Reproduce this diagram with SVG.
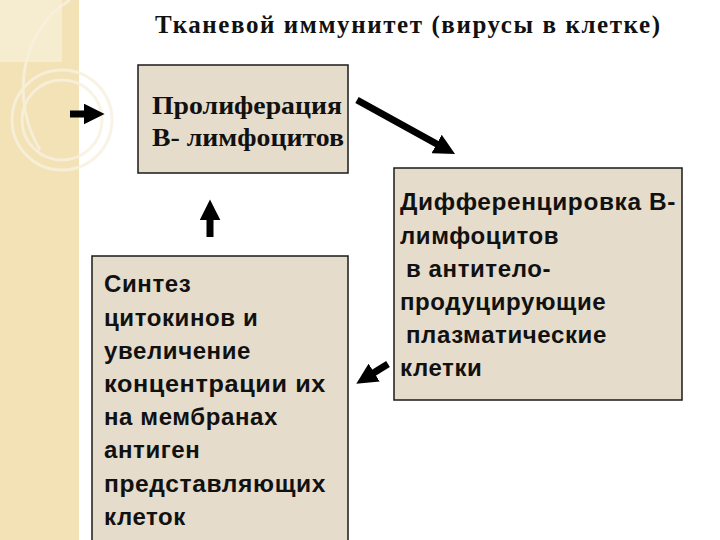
<svg xmlns="http://www.w3.org/2000/svg" width="720" height="540" viewBox="0 0 720 540">
<style>
.box{fill:#e5dccb;stroke:#1a1a1a;stroke-width:1.5}
.t{font-family:"Liberation Sans",Arial,sans-serif;font-weight:bold;font-size:24px;letter-spacing:0.6px;fill:#111}
.s{font-family:"Liberation Serif","Times New Roman",serif;font-weight:bold;font-size:25px;fill:#111}
.ar{stroke:#000;stroke-width:7;fill:none;marker-end:url(#h)}
</style>
<defs><marker id="h" viewBox="0 0 10 10" refX="4" refY="5" markerWidth="3" markerHeight="3" orient="auto" markerUnits="strokeWidth"><path d="M0,0 L10,5 L0,10 z" fill="#000"/></marker></defs>
<rect width="720" height="540" fill="#fff"/>
<rect x="0" y="0" width="79" height="540" fill="#f2e2b6"/>
<rect x="0" y="0" width="62" height="62" fill="#f6ecd0"/>
<g fill="none" stroke="#f8f1de" stroke-width="3" opacity="0.8">
<circle cx="62" cy="120" r="50"/>
<circle cx="62" cy="120" r="40"/>
<path d="M70,0 C20,30 10,100 40,150"/>
</g>
<text class="s" x="155" y="33" font-size="23" textLength="505" lengthAdjust="spacing">Тканевой иммунитет (вирусы в клетке)</text>
<g id="n1"><rect class="box" x="138" y="65" width="210" height="108"/>
<text class="s" x="152" y="114" textLength="190" lengthAdjust="spacingAndGlyphs">Пролиферация</text><text class="s" x="152" y="146" textLength="192" lengthAdjust="spacingAndGlyphs">В- лимфоцитов</text></g>
<g id="n2"><rect class="box" x="394" y="168" width="288" height="232"/>
<text class="t" x="400" y="210" textLength="276" lengthAdjust="spacingAndGlyphs">Дифференцировка В-</text>
<text class="t" x="400" y="244">лимфоцитов</text>
<text class="t" x="406" y="277">в антитело-</text>
<text class="t" x="400" y="310">продуцирующие</text>
<text class="t" x="406" y="343">плазматические</text>
<text class="t" x="400" y="376">клетки</text></g>
<g id="n3"><rect class="box" x="92" y="256" width="256" height="300"/>
<text class="t" x="104" y="292">Синтез</text>
<text class="t" x="104" y="326">цитокинов и</text>
<text class="t" x="104" y="359">увеличение</text>
<text class="t" x="104" y="392" textLength="222" lengthAdjust="spacingAndGlyphs">концентрации их</text>
<text class="t" x="104" y="425">на мембранах</text>
<text class="t" x="104" y="458">антиген</text>
<text class="t" x="104" y="492" textLength="222" lengthAdjust="spacingAndGlyphs">представляющих</text>
<text class="t" x="104" y="525">клеток</text></g>
<g id="connectors">
<line class="ar" x1="70" y1="114" x2="92" y2="114" stroke-width="9"/>
<line class="ar" x1="357" y1="100" x2="444" y2="148"/>
<line class="ar" x1="210" y1="237" x2="210" y2="212"/>
<line class="ar" x1="388" y1="364" x2="367" y2="377"/>
</g>
</svg>
